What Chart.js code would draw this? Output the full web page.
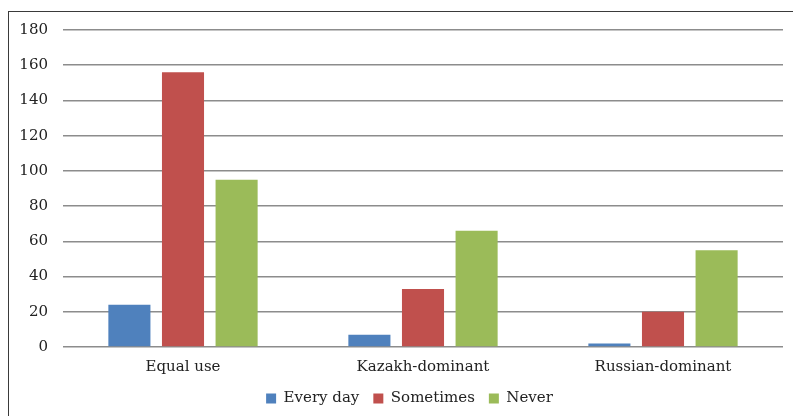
<!DOCTYPE html>
<html><head><meta charset="utf-8">
<script src="https://cdn.jsdelivr.net/npm/chart.js@4"></script>
<style>
html,body{margin:0;padding:0;background:#fff;overflow:hidden;width:793px;height:416px;}
#frame{position:absolute;left:8px;top:11px;width:800px;height:420px;border:1.5px solid #3a3a3a;box-sizing:border-box;}
canvas{position:absolute;left:0;top:0;}
</style></head>
<body>
<div id="frame"></div>
<canvas id="c" width="793" height="416"></canvas>
<script>
const categories = ["Equal use", "Kazakh-dominant", "Russian-dominant"];
const everyDay = [24, 7, 2];
const sometimes = [156, 33, 20];
const never = [95, 66, 55];
const yMin = 0, yMax = 180, yStep = 20;

const font = {family: "'DejaVu Serif', serif", size: 15};
const legendShift = {
  id: 'legendShift',
  afterLayout(chart) {
    if (chart.legend) { chart.legend.left += 14; chart.legend.right += 14; }
  }
};
new Chart(document.getElementById('c'), {
  type: 'bar',
  data: {
    labels: categories,
    datasets: [
      {label: 'Every day', data: everyDay, backgroundColor: '#4F81BD'},
      {label: 'Sometimes', data: sometimes, backgroundColor: '#C0504D'},
      {label: 'Never', data: never, backgroundColor: '#9BBB59'}
    ]
  },
  plugins: [legendShift],
  options: {
    responsive: false,
    animation: false,
    devicePixelRatio: 1,
    datasets: {bar: {categoryPercentage: 0.67, barPercentage: 0.785}},
    layout: {padding: {left: 8, right: 10, top: 30, bottom: 0}},
    plugins: {
      legend: {
        position: 'bottom',
        labels: {boxWidth: 10, boxHeight: 10, font: font, color: '#222', padding: 14}
      },
      tooltip: {enabled: false}
    },
    scales: {
      x: {
        afterFit: s => { s.height = 30; },
        grid: {display: false, drawTicks: false},
        border: {display: false},
        ticks: {font: font, color: '#222', padding: 11}
      },
      y: {
        min: yMin, max: yMax,
        afterFit: s => { s.width = 55; },
        ticks: {stepSize: yStep, font: font, color: '#222', padding: 15},
        grid: {color: '#8c8c8c', lineWidth: 1.5, drawTicks: false},
        border: {display: false}
      }
    }
  }
});
</script>
</body></html>
